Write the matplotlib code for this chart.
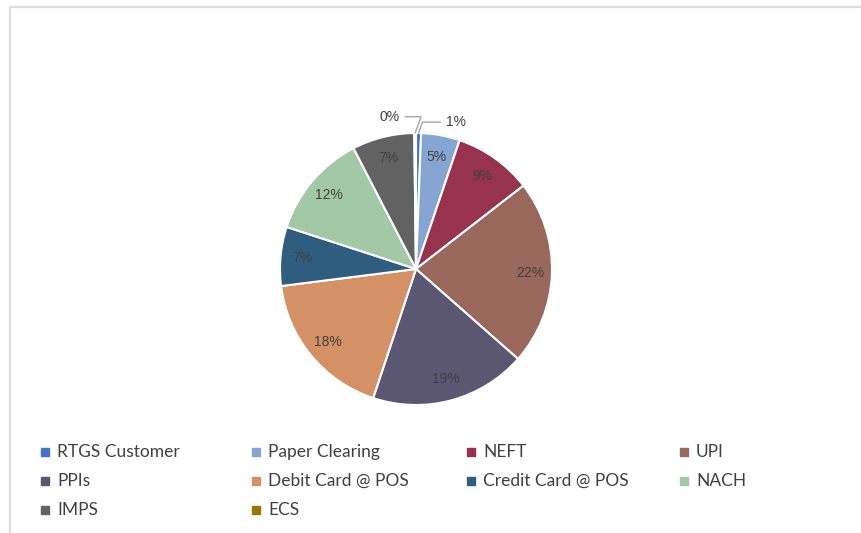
import matplotlib.pyplot as plt
from matplotlib.patches import Rectangle
import numpy as np

# данные (доли, %)
categories = ['RTGS Customer', 'Paper Clearing', 'NEFT', 'UPI', 'PPIs',
              'Debit Card @ POS', 'Credit Card @ POS', 'NACH', 'IMPS', 'ECS']
shares = [0.6, 4.6, 9.3, 22.0, 18.6, 17.9, 7.0, 12.4, 7.4, 0.2]
colors = ['#4472c4', '#87a5d3', '#97324f', '#99675b', '#5b5672',
          '#d49166', '#2f5d80', '#a2c8a5', '#626262', '#9a7700']

W, H = 862, 533
fig = plt.figure(figsize=(W / 100, H / 100), dpi=100)

# рамка области диаграммы
fig.add_artist(Rectangle((10 / W, -0.05), 1.0, (H - 7) / H + 0.05,
                         transform=fig.transFigure, fill=False,
                         edgecolor='#dedede', linewidth=1.6))

# круг: центр (416, 269) px, радиус 136 px
cx, cy, r, half = 416, 269, 136, 160
ax = fig.add_axes([(cx - half) / W, (H - cy - half) / H, 2 * half / W, 2 * half / H])

wedges, _ = ax.pie(shares, colors=colors, startangle=90, counterclock=False,
                   radius=1, wedgeprops=dict(edgecolor='white', linewidth=1.5))
lim = half / r
ax.set_xlim(-lim, lim)
ax.set_ylim(-lim, lim)
ax.axis('off')

txt = dict(fontsize=10, color='#404040', family='Liberation Sans')
for w, v in zip(wedges, shares):
    ang = np.deg2rad((w.theta1 + w.theta2) / 2)
    if v < 1:
        continue
    d = 0.84
    ax.text(d * np.cos(ang), d * np.sin(ang), f'{v:.0f}%', ha='center', va='center', **txt)

# подписи маленьких секторов с выносками
def outer(w, v, xy_text, ha):
    ang = np.deg2rad((w.theta1 + w.theta2) / 2)
    ax.annotate(f'{v:.0f}%', xy=(np.cos(ang), np.sin(ang)), xytext=xy_text,
                ha=ha, va='center', **txt,
                arrowprops=dict(arrowstyle='-', color='#a6a6a6', lw=1,
                                shrinkA=2, shrinkB=0,
                                connectionstyle='angle,angleA=0,angleB=70,rad=0'))

outer(wedges[0], shares[0], (0.22, 1.08), 'left')
outer(wedges[-1], shares[-1], (-0.12, 1.12), 'right')

# легенда (4 столбца)
col_x = [45, 256, 471, 684]
row_y = [452, 481, 510]
for i, (name, c) in enumerate(zip(categories, colors)):
    x, y = col_x[i % 4], row_y[i // 4]
    fig.add_artist(Rectangle(((x - 4) / W, (H - y - 4) / H), 8 / W, 8 / H,
                             transform=fig.transFigure, color=c))
    fig.text((x + 12) / W, (H - y) / H, name, ha='left', va='center',
             fontsize=12.5, color='#404040', family='Lato')

plt.savefig('out.png', dpi=100)
plt.close()
